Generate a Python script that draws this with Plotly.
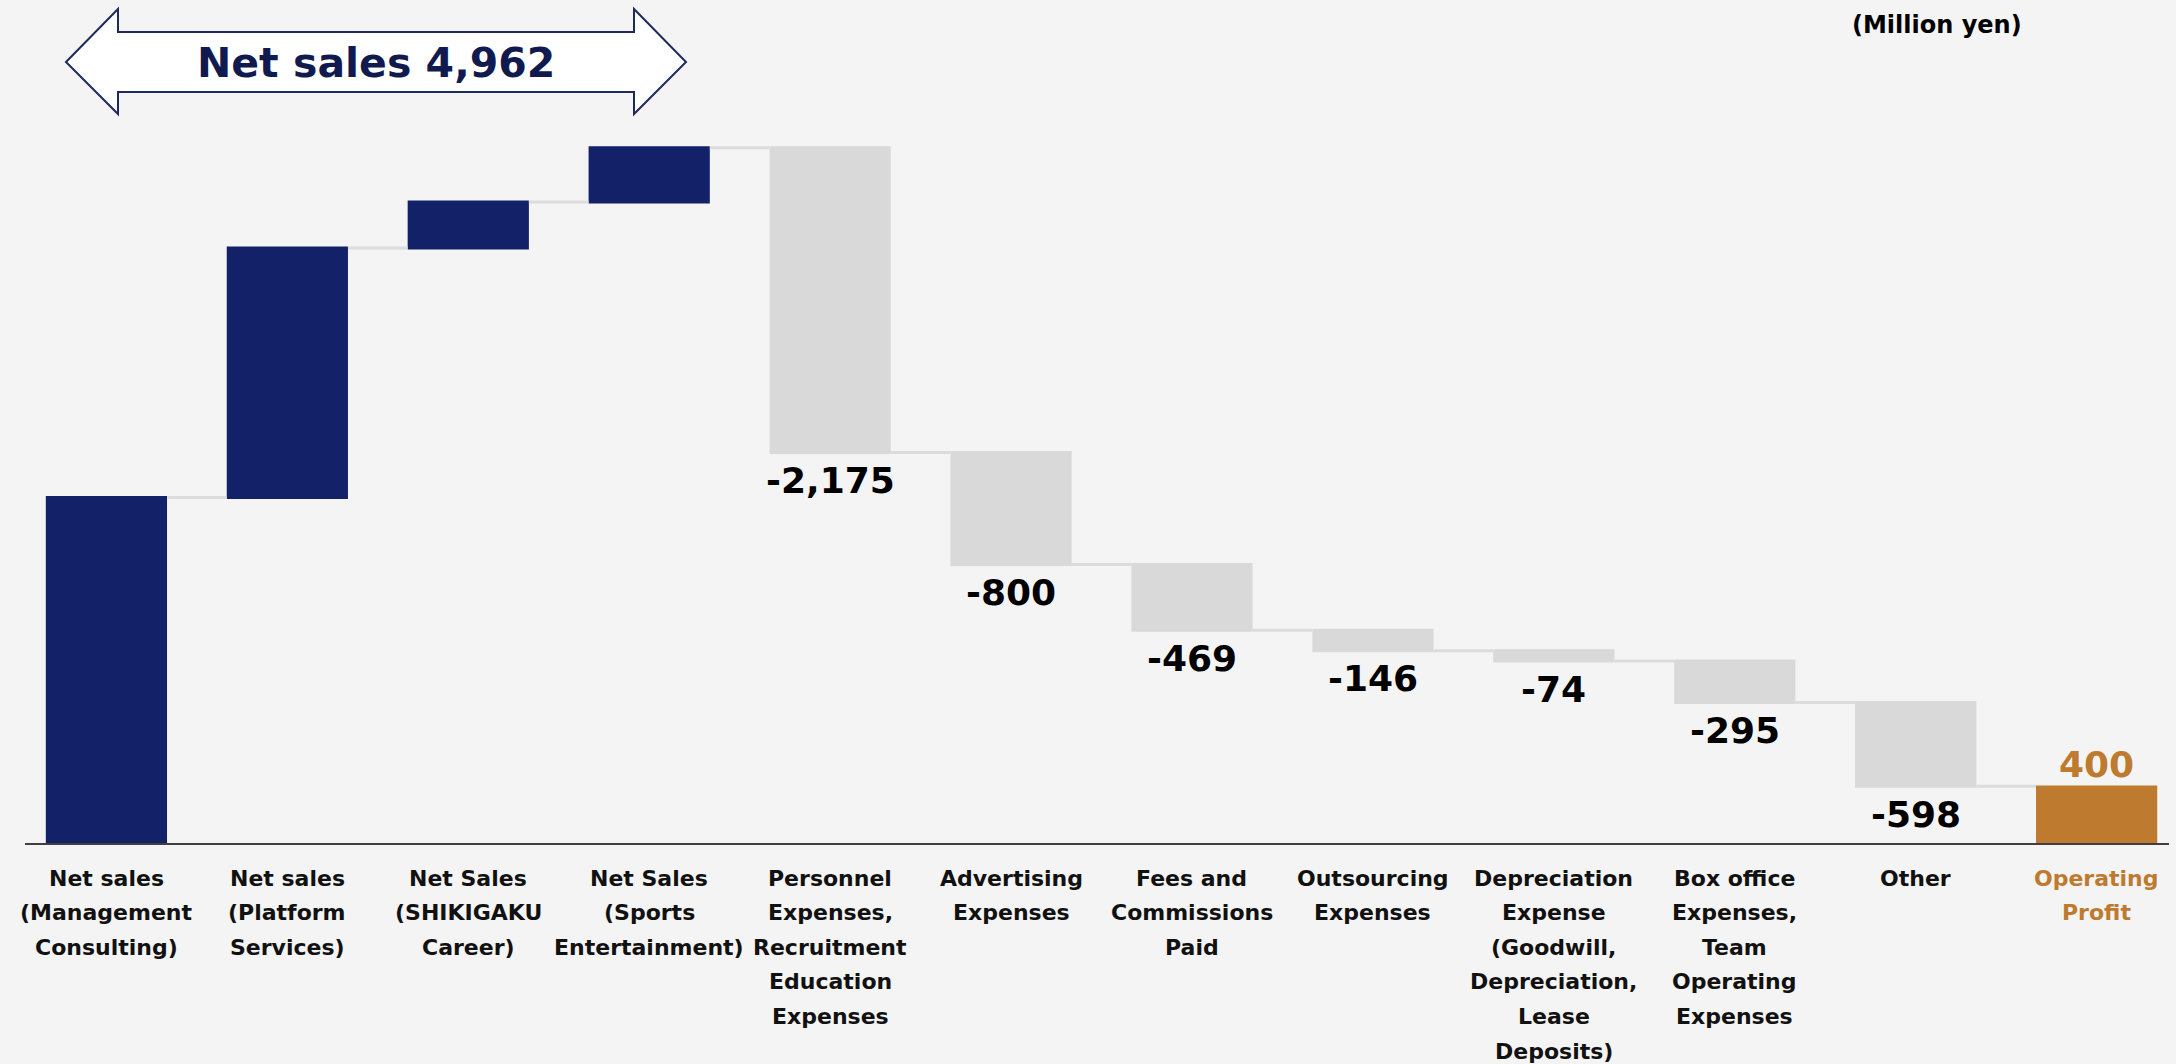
import numpy as np
import plotly.graph_objects as go

# Operating profit bridge (Million yen)
categories = [
    "Net sales\n(Management\nConsulting)",
    "Net sales\n(Platform\nServices)",
    "Net Sales\n(SHIKIGAKU\nCareer)",
    "Net Sales\n(Sports\nEntertainment)",
    "Personnel\nExpenses,\nRecruitment\nEducation\nExpenses",
    "Advertising\nExpenses",
    "Fees and\nCommissions\nPaid",
    "Outsourcing\nExpenses",
    "Depreciation\nExpense\n(Goodwill,\nDepreciation,\nLease\nDeposits)",
    "Box office\nExpenses,\nTeam\nOperating\nExpenses",
    "Other",
    "Operating\nProfit",
]
values = [2465, 1781, 328, 388, -2175, -800, -469, -146, -74, -295, -598, 400]
measures = ["relative"] * 11 + ["absolute"]
net_sales_total = 4962

NAVY = "#132168"
GRAY = "#D9D9D9"
ORANGE = "#BE7A2E"
BG = "#F4F4F4"
FONT = "DejaVu Sans"

W, H = 2176, 1064
ML, MR, MT, MB = 25, 7, 0, 221
plot_h = H - MT - MB
y_max = 6016

x_keys = [c.replace("\n", " ") for c in categories]

fig = go.Figure(
    go.Waterfall(
        x=x_keys,
        y=values,
        measure=measures,
        increasing=dict(marker=dict(color=NAVY)),
        decreasing=dict(marker=dict(color=GRAY)),
        totals=dict(marker=dict(color=ORANGE)),
        connector=dict(mode="between", line=dict(color="#DCDCDC", width=3)),
        hoverinfo="skip",
    )
)

# value labels under each expense bar and above the profit bar
ends = np.cumsum(values[:-1])
annotations = []
for i, v in enumerate(values):
    if measures[i] == "absolute":
        annotations.append(dict(
            x=x_keys[i], y=v, xref="x", yref="y", text=f"{v:,}",
            showarrow=False, yanchor="middle", yshift=22,
            font=dict(family=FONT, size=36, color=ORANGE, weight="bold"),
        ))
    elif v < 0:
        annotations.append(dict(
            x=x_keys[i], y=float(ends[i]), xref="x", yref="y", text=f"{v:,}",
            showarrow=False, yanchor="middle", yshift=-28,
            font=dict(family=FONT, size=36, color="#000000", weight="bold"),
        ))

# category labels, one annotation per line for wider line spacing
first_line_px = 878
line_step_px = 34.6
for i, cat in enumerate(categories):
    color = ORANGE if measures[i] == "absolute" else "#111111"
    for k, line in enumerate(cat.split("\n")):
        py = first_line_px + k * line_step_px
        annotations.append(dict(
            x=x_keys[i], y=(MT + plot_h - py) / plot_h, xref="x", yref="paper",
            text=line, showarrow=False, yanchor="middle", xanchor="center",
            font=dict(family=FONT, size=22, color=color, weight="bold"),
        ))

plot_w = W - ML - MR


def px_x(px):
    return (px - ML) / plot_w


def px_y(py):
    return (MT + plot_h - py) / plot_h


# double-headed arrow spanning the sales segments
pts = [
    (66, 62), (118, 9), (118, 32), (634, 32), (634, 9), (686, 62),
    (634, 114), (634, 92), (118, 92), (118, 114),
]
path = "M " + " L ".join(f"{px_x(x):.5f},{px_y(y):.5f}" for x, y in pts) + " Z"

annotations.append(dict(
    x=px_x(376), y=px_y(63), xref="paper", yref="paper",
    text=f"Net sales {net_sales_total:,}", showarrow=False,
    xanchor="center", yanchor="middle",
    font=dict(family=FONT, size=41, color="#111A4F", weight="bold"),
))
annotations.append(dict(
    x=px_x(1937), y=px_y(25), xref="paper", yref="paper",
    text="(Million yen)", showarrow=False,
    xanchor="center", yanchor="middle",
    font=dict(family=FONT, size=24, color="#000000", weight="bold"),
))

fig.update_layout(
    width=W, height=H, autosize=False,
    margin=dict(l=ML, r=MR, t=MT, b=MB),
    paper_bgcolor=BG, plot_bgcolor=BG,
    showlegend=False,
    waterfallgap=0.33,
    xaxis=dict(
        type="category", range=[-0.45, 11.40], showticklabels=False,
        showline=True, linecolor="#404040", linewidth=2, ticks="",
        showgrid=False, zeroline=False, fixedrange=True,
    ),
    yaxis=dict(range=[0, y_max], visible=False, showgrid=False,
               zeroline=False, fixedrange=True),
    shapes=[dict(type="path", path=path, xref="paper", yref="paper",
                 fillcolor="#FFFFFF", line=dict(color="#1F2A5C", width=2),
                 layer="above")],
    annotations=annotations,
)

fig.write_html("out.html", config={"displayModeBar": False})
